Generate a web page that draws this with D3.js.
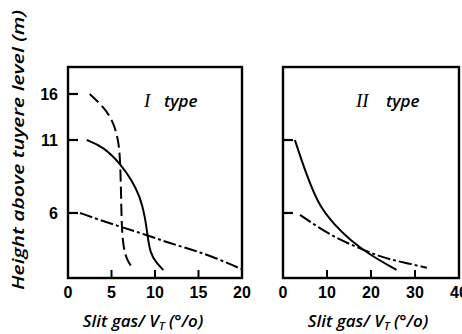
<!DOCTYPE html>
<html>
<head>
<meta charset="utf-8">
<script src="https://cdn.jsdelivr.net/npm/d3@7"></script>
<style>
  body { margin: 0; background: #fff; }
  svg { display: block; }
  .num { font-family: "Liberation Sans", Arial, sans-serif; font-weight: bold; font-size: 16px; }
  .lab { font-family: "Open Sans", "Liberation Sans", sans-serif; font-style: italic; font-weight: 600; font-size: 17px; }
</style>
</head>
<body>
<svg id="chart" width="462" height="334"></svg>
<script>
/* Daten: Hoehe ueber Blasformebene (m) gegen Spaltgas/V_T (%) */
const heightTicks = [6, 11, 16];
const xTicksI = [0, 5, 10, 15, 20];
const xTicksII = [0, 10, 20, 30, 40];

const typeI_dashed = [[2.5,16],[4.1,14.6],[5.2,13.0],[5.8,11],[6.0,9.6],[6.1,7.35],[6.17,4.7],[6.36,2.9],[6.75,1.66],[7.44,0.9]];
const typeI_solid = [[2.15,11],[4.06,10.54],[5.98,9.4],[7.32,8.26],[8.28,7.12],[8.85,5.66],[9.11,4.12],[9.43,2.28],[10.2,1.36],[10.95,0.74]];
const typeI_dashdot = [[1.38,6],[3.68,5.35],[5.98,4.74],[9.05,3.97],[11.72,3.2],[14.4,2.58],[17.1,1.82],[20,0.8]];

const typeII_solid = [[2.7,11],[4.2,9.63],[6.1,8.03],[8.4,6.43],[11.4,5.05],[15.2,3.51],[19.8,2.12],[25.8,0.74]];
const typeII_dashdot = [[3.86,5.82],[8.4,4.58],[12.95,3.51],[17.5,2.74],[22.0,1.97],[26.6,1.5],[32.7,0.95]];

const svg = d3.select("#chart");

/* Hoehenachse ist im Original nicht massstaeblich -> stueckweise linear */
const y = d3.scaleLinear().domain([0, 6, 11, 16, 19]).range([278, 213, 140, 94, 67]);

const styles = {
  solid: null,
  dashed: "12,5",
  dashdot: "13,3,3,3"
};

function panel(x, xTicks, series, yLabels, roman, romanX, typeX, labelX) {
  const [x0, x1] = x.range();
  const [yb, yt] = [y(0), y(19)];

  // Rahmen
  svg.append("rect")
    .attr("x", x0).attr("y", yt)
    .attr("width", x1 - x0).attr("height", yb - yt)
    .attr("fill", "none").attr("stroke", "#000").attr("stroke-width", 2.4);

  // x-Ticks (nach innen) + Beschriftung
  xTicks.forEach((t, i) => {
    if (i > 0 && i < xTicks.length - 1) {
      svg.append("line")
        .attr("x1", x(t)).attr("x2", x(t))
        .attr("y1", yb).attr("y2", yb - 8)
        .attr("stroke", "#000").attr("stroke-width", 2);
    }
    svg.append("text").attr("class", "num")
      .attr("x", x(t)).attr("y", yb + 20)
      .attr("text-anchor", "middle")
      .text(t);
  });

  // y-Ticks (nach innen)
  yLabels.forEach(h => {
    svg.append("line")
      .attr("x1", x0).attr("x2", x0 + 10)
      .attr("y1", y(h)).attr("y2", y(h))
      .attr("stroke", "#000").attr("stroke-width", 2.2);
  });

  const line = d3.line()
    .x(d => x(d[0]))
    .y(d => y(d[1]))
    .curve(d3.curveBasis);

  series.forEach(s => {
    svg.append("path")
      .attr("d", line(s.data))
      .attr("fill", "none")
      .attr("stroke", "#000")
      .attr("stroke-width", 2)
      .attr("stroke-dasharray", styles[s.style]);
  });

  svg.append("text")
    .attr("x", romanX).attr("y", 107)
    .attr("font-family", "Liberation Serif, serif")
    .attr("font-style", "italic")
    .attr("font-size", 19)
    .text(roman);
  svg.append("text").attr("class", "lab")
    .attr("x", typeX).attr("y", 107)
    .attr("font-size", 18)
    .text("type");

  svg.append("text").attr("class", "lab")
    .attr("x", labelX).attr("y", 327)
    .attr("text-anchor", "middle")
    .attr("font-size", 18)
    .html("Slit gas/ V<tspan font-size='11' dy='3'>T</tspan><tspan dy='-3'> (°/o)</tspan>");
}

const xI = d3.scaleLinear().domain([0, 20]).range([68, 242]);
const xII = d3.scaleLinear().domain([0, 40]).range([283, 459]);

panel(xI, xTicksI, [
  { data: typeI_dashed, style: "dashed" },
  { data: typeI_solid, style: "solid" },
  { data: typeI_dashdot, style: "dashdot" }
], heightTicks, "I", 144, 164, 143);

panel(xII, xTicksII, [
  { data: typeII_solid, style: "solid" },
  { data: typeII_dashdot, style: "dashdot" }
], [6, 11], "II", 356, 386, 368);

// Beschriftung der Hoehenachse (nur links)
heightTicks.forEach(h => {
  svg.append("text").attr("class", "num")
    .attr("x", 58).attr("y", y(h) + 6)
    .attr("text-anchor", "end")
    .text(h);
});

svg.append("text").attr("class", "lab")
  .attr("transform", "translate(24,150) rotate(-90)")
  .attr("text-anchor", "middle")
  .attr("font-size", 19)
  .attr("textLength", 280)
  .attr("lengthAdjust", "spacingAndGlyphs")
  .text("Height above tuyere level (m)");
</script>
</body>
</html>
